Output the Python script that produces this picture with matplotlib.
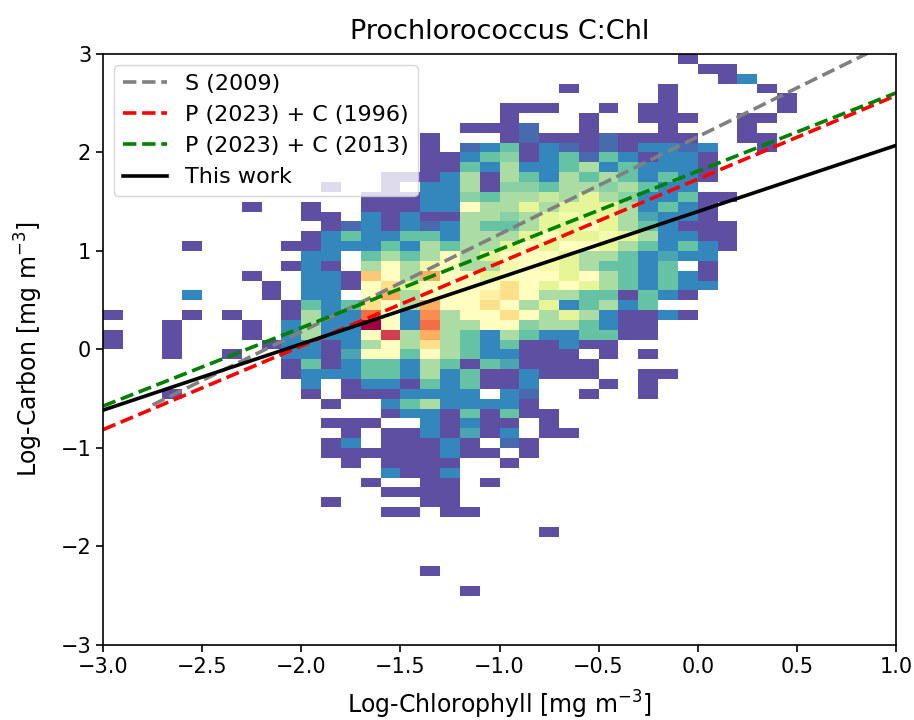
import numpy as np
import matplotlib
matplotlib.use("Agg")
import matplotlib.pyplot as plt
from matplotlib.colors import Normalize

# ---- data -------------------------------------------------------------
# 2D histogram of log-chlorophyll (x) vs log-carbon (y), 0.1 x 0.1 bins.
# Rows from top (y bin 2.9..3.0) down to bottom (y bin -2.5..-2.4),
# columns from x = -3.0 to 0.5.  '.' = empty bin, '1'..'l' = relative count
# level (base-36 digit, 1 = lowest, 21 = highest).
x_start, y_top, bin_w = -3.0, 3.0, 0.1
count_rows = [
    "..... ..... ..... ..... ..... ....1 .....",  # 3.0
    "..... ..... ..... ..... ..... ..... 11...",  # 2.9
    "..... ..... ..... ..... ..... ..... .13..",  # 2.8
    "..... ..... ..... ..... ...1. ...1. ...1.",  # 2.7
    "..... ..... ..... ..... ..... ...1. ....1",  # 2.6
    "..... ..... ..... ..... 111.. 1.11. ....1",  # 2.5
    "..... ..... ..... ..... 1...1 ..111 ..11.",  # 2.4
    "..... ..... ..... ...11 12..1 ...1. ..1..",  # 2.3
    "..... ..... ..... .1... 12111 21111 ..11.",  # 2.2
    "..... ..... ..... .1.23 51321 21332 3..1.",  # 2.1
    "..... ..... ..... .1135 61352 53133 1....",  # 2.0
    "..... ..... ..... .1153 73357 35333 1....",  # 1.9
    "..... ..... ....1 11371 75375 75353 1....",  # 1.8
    "..... ..... .1..1 .3371 66577 67533 .....",  # 1.7
    "..... ..... ...11 13365 77879 76335 11...",  # 1.6
    "..... ..1.. 1..11 133b7 79799 97353 1....",  # 1.5
    "..... ..... 11.31 31177 679a9 97433 1....",  # 1.4
    "..... ..... .1231 32375 5799b 97531 11...",  # 1.3
    "..... ..... 13533 55377 79b99 a9733 11...",  # 1.2
    "....1 ....1 13335 37577 9b9bb 97535 31...",  # 1.1
    "..... ..... 33.57 57b79 bbb97 75343 3....",  # 1.0
    "..... ....1 31.7b 7ab77 aba97 5535. 1....",  # 0.9
    "..... ..1.. 331eb 7fbb9 bbb9b 75353 1....",  # 0.8
    "..... ...1. 331bd 9bbbb db9b9 75353 3....",  # 0.7
    "....3 ...1. 33.bf 7bbbc db775 51531 .....",  # 0.6
    "..... ....1 535db 7fbbd b7935 735.. .....",  # 0.5
    "1...1 .1..1 733hb 3g7bb db797 31131 .....",  # 0.4
    "...1. ..1.3 733lb 3h77b b6775 311.. .....",  # 0.3
    "1..1. ..1.3 733bj 7f753 75335 511.. .....",  # 0.2
    "1..1. ...13 3137b 7d753 51131 1.... .....",  # 0.1
    "...1. .1..3 314bb 5b753 3111. 1.1.. .....",  # 0.0
    "..... ....1 51355 37515 41111 ..... .....",  # -0.1
    "..... ....1 33355 37351 13111 ..11. .....",  # -0.2
    "..... ..... 3.133 15351 13... 1.1.. .....",  # -0.3
    "...1. ..... 1.111 3333. 32..1 ..1.. .....",  # -0.4
    "..... ..... .1..3 57333 31... ..... .....",  # -0.5
    "..... ..... ....1 33151 511.. ..... .....",  # -0.6
    "..... ..... .111. .3131 1.1.. ..... .....",  # -0.7
    "..... ..... ..1.1 13141 3.11. ..... .....",  # -0.8
    "..... ..... .13.1 1131. 21... ..... .....",  # -0.9
    "..... ..... .1111 11311 .1... ..... .....",  # -1.0
    "..... ..... ..1.1 111.. 1.... ..... .....",  # -1.1
    "..... ..... ....3 113.. ..... ..... .....",  # -1.2
    "..... ..... ...1. .11.1 ..... ..... .....",  # -1.3
    "..... ..... ....1 111.. ..... ..... .....",  # -1.4
    "..... ..... .1... .11.. ..... ..... .....",  # -1.5
    "..... ..... ....1 1.11. ..... ..... .....",  # -1.6
    "..... ..... ..... ..... ..... ..... .....",  # -1.7
    "..... ..... ..... ..... ..1.. ..... .....",  # -1.8
    "..... ..... ..... ..... ..... ..... .....",  # -1.9
    "..... ..... ..... ..... ..... ..... .....",  # -2.0
    "..... ..... ..... ..... ..... ..... .....",  # -2.1
    "..... ..... ..... .1... ..... ..... .....",  # -2.2
    "..... ..... ..... ..... ..... ..... .....",  # -2.3
    "..... ..... ..... ...1. ..... ..... .....",  # -2.4
]

# regression lines: log C = intercept + slope * log Chl
line_labels = ["S (2009)", "P (2023) + C (1996)", "P (2023) + C (2013)", "This work"]
line_intercepts = [2.16, 1.73, 1.81, 1.40]
line_slopes = [0.99, 0.848, 0.795, 0.672]
line_xstart = [-2.75, -3.0, -3.0, -3.0]
line_colors = ["grey", "red", "green", "black"]
line_styles = ["--", "--", "--", "-"]

x_ticks = [-3.0, -2.5, -2.0, -1.5, -1.0, -0.5, 0.0, 0.5, 1.0]
y_ticks = [-3, -2, -1, 0, 1, 2, 3]

# ---- build grid ---------------------------------------------------------
rows = [r.replace(" ", "") for r in count_rows]
grid = np.array([[0 if ch == "." else int(ch, 36) for ch in r] for r in rows], float)
grid = grid[::-1]  # bottom row first
ny, nx = grid.shape
x_edges = x_start + bin_w * np.arange(nx + 1)
y_edges = y_top - bin_w * ny + bin_w * np.arange(ny + 1)
masked = np.ma.masked_equal(grid, 0)

fig = plt.figure(figsize=(9.14, 7.2), dpi=100)
ax = fig.add_axes([0.1127, 0.1042, 0.8676, 0.8208])

ax.pcolormesh(x_edges, y_edges, masked, cmap="Spectral_r",
              norm=Normalize(vmin=1, vmax=21), shading="flat")

for lab, b, m, x0, c, ls in zip(line_labels, line_intercepts, line_slopes,
                                line_xstart, line_colors, line_styles):
    xs = np.array([x0, 1.0])
    ax.plot(xs, b + m * xs, ls, color=c, lw=2.6, label=lab)

ax.set_xlim(-3, 1)
ax.set_ylim(-3, 3)
ax.set_xticks(x_ticks)
ax.set_xticklabels([f"{t:.1f}".replace("-", "\u2212") for t in x_ticks])
ax.set_yticks(y_ticks)
ax.tick_params(labelsize=15, length=5, width=1.2)
for s in ax.spines.values():
    s.set_linewidth(1.2)

ax.set_xlabel("Log-Chlorophyll [mg m$^{-3}$]", fontsize=17, labelpad=9)
ax.set_ylabel("Log-Carbon [mg m$^{-3}$]", fontsize=17, labelpad=11)
ax.set_title("Prochlorococcus C:Chl", fontsize=19.5, pad=11)
ax.legend(loc="upper left", fontsize=16, handlelength=2.0)

fig.savefig("out.png", dpi=100)
